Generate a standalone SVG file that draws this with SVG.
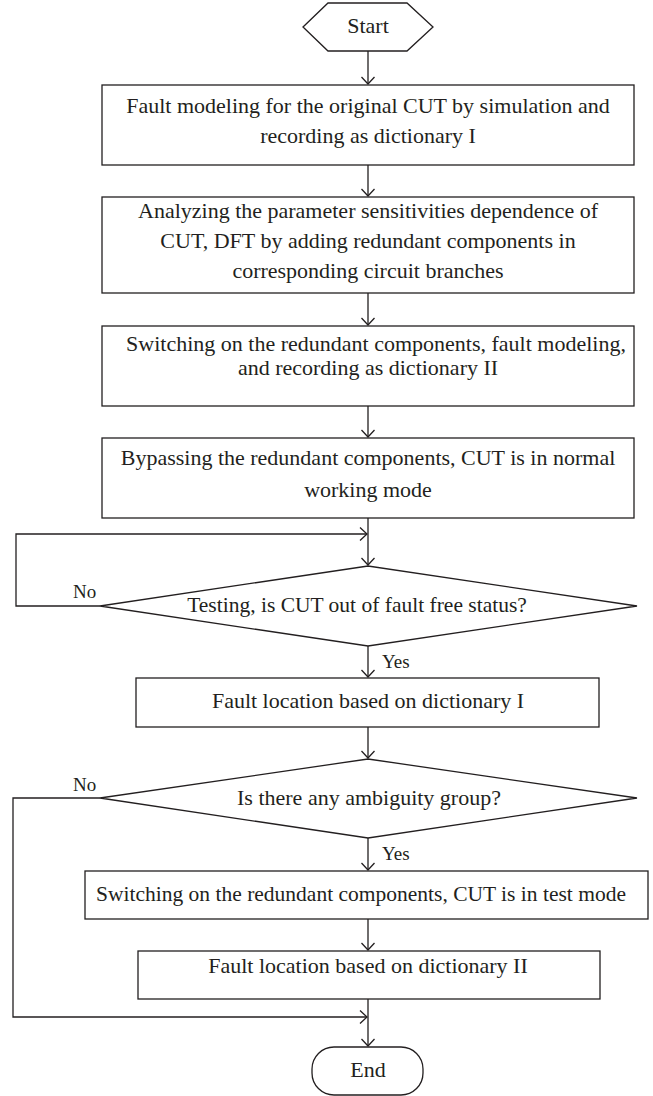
<svg xmlns="http://www.w3.org/2000/svg" width="653" height="1096" viewBox="0 0 653 1096">
<style>
.s{fill:#fff;stroke:#231f20;stroke-width:1.3}
.c{fill:none;stroke:#231f20;stroke-width:1.3}
text{font-family:"Liberation Serif","Times New Roman",serif;font-size:22px;fill:#231f20;text-anchor:middle}
.l{font-size:19px;text-anchor:start}
.m{font-size:21.5px}
</style>
<defs>
<marker id="a" viewBox="-8 -8 10 16" markerWidth="10" markerHeight="16" refX="0" refY="0" orient="auto" markerUnits="userSpaceOnUse">
<path d="M-7,-6.5 L0,0 L-7,6.5" fill="none" stroke="#231f20" stroke-width="1.3"/>
</marker>
</defs>
<rect width="653" height="1096" fill="#fff"/>
<g id="connectors">
<line class="c" x1="368" y1="51" x2="368" y2="84" marker-end="url(#a)"/>
<line class="c" x1="368" y1="165" x2="368" y2="196" marker-end="url(#a)"/>
<line class="c" x1="368" y1="293" x2="368" y2="325" marker-end="url(#a)"/>
<line class="c" x1="368" y1="406" x2="368" y2="437" marker-end="url(#a)"/>
<line class="c" x1="368" y1="518" x2="368" y2="565" marker-end="url(#a)"/>
<polyline class="c" points="100,606 16,606 16,534 367,534" marker-end="url(#a)"/>
<line class="c" x1="368" y1="646" x2="368" y2="677" marker-end="url(#a)"/>
<line class="c" x1="368" y1="727" x2="368" y2="758" marker-end="url(#a)"/>
<line class="c" x1="368" y1="838" x2="368" y2="870" marker-end="url(#a)"/>
<line class="c" x1="368" y1="919" x2="368" y2="950" marker-end="url(#a)"/>
<line class="c" x1="368" y1="999" x2="368" y2="1046" marker-end="url(#a)"/>
<polyline class="c" points="100,798 13,798 13,1017 367,1017" marker-end="url(#a)"/>
<text class="l" x="73" y="598">No</text>
<text class="l" x="382" y="668">Yes</text>
<text class="l" x="73" y="791">No</text>
<text class="l" x="382" y="860">Yes</text>
</g>
<g id="start">
<polygon class="s" points="303,27 328,3 407,3 433,27 407,51 328,51"/>
<text x="368" y="33">Start</text>
</g>
<g id="box1">
<rect class="s" x="102" y="85" width="532" height="80"/>
<text x="368" y="113">Fault modeling for the original CUT by simulation and</text>
<text x="368" y="143">recording as dictionary I</text>
</g>
<g id="box2">
<rect class="s" x="102" y="197" width="532" height="96"/>
<text x="368" y="218">Analyzing the parameter sensitivities dependence of</text>
<text x="368" y="248">CUT, DFT by adding redundant components in</text>
<text x="368" y="278">corresponding circuit branches</text>
</g>
<g id="box3">
<rect class="s" x="102" y="326" width="532" height="80"/>
<text x="376" y="351">Switching on the redundant components, fault modeling,</text>
<text x="368" y="375">and recording as dictionary II</text>
</g>
<g id="box4">
<rect class="s" x="102" y="438" width="532" height="80"/>
<text x="368" y="465">Bypassing the redundant components, CUT is in normal</text>
<text x="368" y="497">working mode</text>
</g>
<g id="decision1">
<polygon class="s" points="100,606 368,566 637,606 368,646"/>
<text class="m" x="357" y="612">Testing, is CUT out of fault free status?</text>
</g>
<g id="box5">
<rect class="s" x="136" y="678" width="463" height="49"/>
<text x="368" y="708">Fault location based on dictionary I</text>
</g>
<g id="decision2">
<polygon class="s" points="100,798 368,759 637,798 368,838"/>
<text x="369" y="805">Is there any ambiguity group?</text>
</g>
<g id="box6">
<rect class="s" x="85" y="871" width="563" height="48"/>
<text class="m" x="361" y="901">Switching on the redundant components, CUT is in test mode</text>
</g>
<g id="box7">
<rect class="s" x="138" y="951" width="462" height="48"/>
<text x="368" y="973">Fault location based on dictionary II</text>
</g>
<g id="end">
<rect class="s" x="312" y="1047" width="111" height="48" rx="22" ry="22"/>
<text x="368" y="1077">End</text>
</g>
</svg>
